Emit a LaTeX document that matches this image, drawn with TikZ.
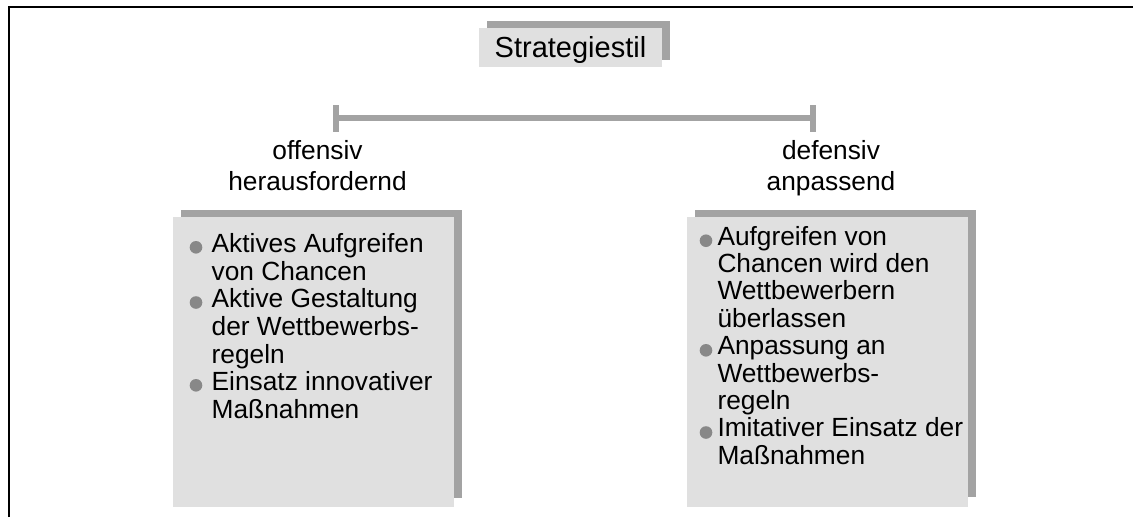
\documentclass[tikz,border=0pt]{standalone}
\usepackage{fontspec}
\setmainfont{Liberation Sans}
\definecolor{boxfill}{HTML}{E0E0E0}
\definecolor{shadowgray}{HTML}{A3A3A3}
\definecolor{bulletgray}{HTML}{888888}
\tikzset{
  panel/.style={fill=boxfill, draw=none},
  panelshadow/.style={fill=shadowgray, draw=none},
  bodytext/.style={anchor=base west, inner sep=0pt, font=\fontsize{26.3}{27.6}\selectfont},
  headtext/.style={anchor=base, inner sep=0pt, font=\fontsize{26.3}{31}\selectfont},
  titletext/.style={anchor=base, inner sep=0pt, font=\fontsize{29}{32}\selectfont},
  bar/.style={draw=shadowgray, line width=6pt},
  bulletdot/.style={fill=bulletgray}
}
\begin{document}
\begin{tikzpicture}[x=1pt, y=-1pt]
\useasboundingbox (0,0) rectangle (1133,517);
% outer frame (left and top edges)
\draw[line width=2pt] (9,517) -- (9,7) -- (1133,7);

% title box with offset shadow
\fill[panelshadow] (487,21) rectangle (670,60);
\fill[panel] (479,28) rectangle (662,67);
\node[titletext] (title) at (570.5,57.7) {Strategiestil};

% dimension bar with end ticks
\coordinate (barL) at (333,118);
\coordinate (barR) at (816,118);
\draw[bar] ([xshift=3pt]barL) -- ([xshift=-3pt]barR);
\fill[shadowgray] (333,105) rectangle (339,132);
\fill[shadowgray] (810,105) rectangle (816,132);

% pole labels
\node[headtext] (off1) at (317.5,159) {offensiv};
\node[headtext] (off2) at (317.5,190) {herausfordernd};
\node[headtext] (def1) at (831,159) {defensiv};
\node[headtext] (def2) at (831,190) {anpassend};

% left panel
\fill[panelshadow] (181,210) rectangle (462,498);
\fill[panel] (173,217) rectangle (454,507);
\foreach \t [count=\i] in {Aktives Aufgreifen, von Chancen, Aktive Gestaltung,
    der Wettbewerbs-, regeln, Einsatz innovativer, Maßnahmen}
  \node[bodytext] (left\i) at (211.5,{252.7+27.6*(\i-1)}) {\t};
\foreach \i in {0,2,5}
  \fill[bulletdot] (196,{247.3+27.6*\i}) circle (6.3);

% right panel
\fill[panelshadow] (695,210) rectangle (976,497);
\fill[panel] (687,217) rectangle (968,507);
\foreach \t [count=\i] in {Aufgreifen von, Chancen wird den, Wettbewerbern,
    überlassen, Anpassung an, Wettbewerbs-, regeln, Imitativer Einsatz der, Maßnahmen}
  \node[bodytext] (right\i) at (717.3,{245+27.4*(\i-1)}) {\t};
\foreach \i in {0,4,7}
  \fill[bulletdot] (706,{240.7+27.4*\i}) circle (6.3);
\end{tikzpicture}
\end{document}
